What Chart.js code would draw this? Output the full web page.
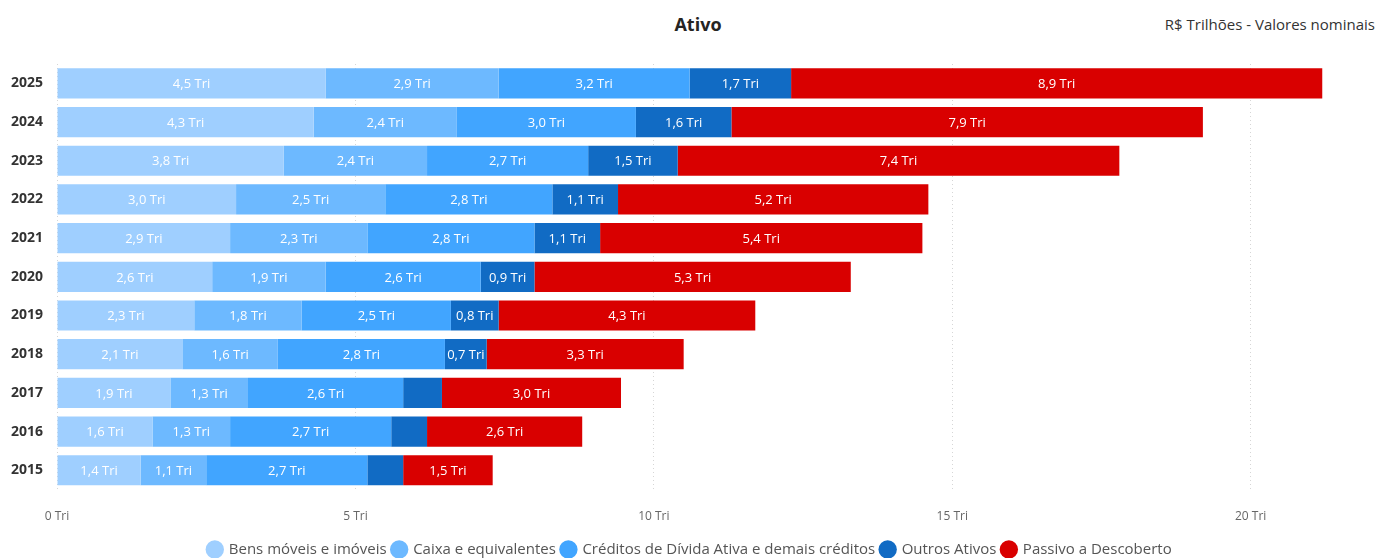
<!DOCTYPE html>
<html lang="pt-BR">
<head>
<meta charset="utf-8">
<title>Ativo</title>
<script src="https://cdn.jsdelivr.net/npm/chart.js@4/dist/chart.umd.min.js"></script>
<style>
  html, body { margin: 0; padding: 0; background: #fff; overflow: hidden; }
  body { width: 1378px; height: 558px; position: relative; font-family: 'Open Sans', sans-serif; }
  #title { position: absolute; top: 12px; left: 0; width: 1396px; text-align: center; font-weight: bold; font-size: 18px; color: #252423; }
  #note { position: absolute; top: 14px; right: 3px; font-size: 15px; color: #333; }
  #wrap { position: absolute; left: 0; top: 0; width: 1378px; height: 567px; }
</style>
</head>
<body>
<div id="title">Ativo</div>
<div id="note">R$ Trilhões - Valores nominais</div>
<div id="wrap"><canvas id="myChart"></canvas></div>
<script>
'use strict';

/** Data */
let years = ['2025', '2024', '2023', '2022', '2021', '2020', '2019', '2018', '2017', '2016', '2015'];
let bens = [4.5, 4.3, 3.8, 3.0, 2.9, 2.6, 2.3, 2.1, 1.9, 1.6, 1.4];
let caixa = [2.9, 2.4, 2.4, 2.5, 2.3, 1.9, 1.8, 1.6, 1.3, 1.3, 1.1];
let creditos = [3.2, 3.0, 2.7, 2.8, 2.8, 2.6, 2.5, 2.8, 2.6, 2.7, 2.7];
let outros = [1.7, 1.6, 1.5, 1.1, 1.1, 0.9, 0.8, 0.7, 0.65, 0.6, 0.6];
let passivo = [8.9, 7.9, 7.4, 5.2, 5.4, 5.3, 4.3, 3.3, 3.0, 2.6, 1.5];
let xTicks = [0, 5, 10, 15, 20];

let fontFamily = "'Open Sans', sans-serif";

function triLabel(v) {
  return v.toFixed(1).replace('.', ',') + ' Tri';
}

// Labels inside the segments, hidden when they don't fit
let segmentLabels = {
  id: 'segmentLabels',
  afterDatasetsDraw(chart) {
    let c = chart.ctx;
    c.save();
    c.font = '13px ' + fontFamily;
    c.fillStyle = '#ffffff';
    c.textAlign = 'center';
    c.textBaseline = 'middle';
    chart.data.datasets.forEach((ds, i) => {
      let meta = chart.getDatasetMeta(i);
      if (meta.hidden) return;
      meta.data.forEach((bar, j) => {
        let text = triLabel(ds.data[j]);
        let w = Math.abs(bar.x - bar.base);
        if (c.measureText(text).width + 4 > w) return;
        c.fillText(text, (bar.x + bar.base) / 2, bar.y + 1);
      });
    });
    c.restore();
  }
};

let ctx = document.getElementById('myChart');

let chartObj = {
  type: 'bar',
  data: {
    labels: years,
    datasets: [
      { label: 'Bens móveis e imóveis', data: bens, backgroundColor: '#9fcfff' },
      { label: 'Caixa e equivalentes', data: caixa, backgroundColor: '#6db9ff' },
      { label: 'Créditos de Dívida Ativa e demais créditos', data: creditos, backgroundColor: '#41a5ff' },
      { label: 'Outros Ativos', data: outros, backgroundColor: '#116bc4' },
      { label: 'Passivo a Descoberto', data: passivo, backgroundColor: '#d90000' }
    ]
  },
  options: {
    indexAxis: 'y',
    responsive: true,
    maintainAspectRatio: false,
    animation: false,
    layout: { padding: { top: 64, right: 8, left: 10, bottom: 0 } },
    datasets: {
      bar: { barPercentage: 0.78, categoryPercentage: 1, borderWidth: 0 }
    },
    scales: {
      x: {
        stacked: true,
        min: 0,
        max: 22,
        afterBuildTicks(axis) {
          axis.ticks = xTicks.map(v => ({ value: v }));
        },
        afterFit(axis) {
          axis.height -= 8;
        },
        grid: { color: '#d6d6d6', drawTicks: false, lineWidth: 1 },
        border: { display: false, dash: [1, 3] },
        ticks: {
          padding: 20,
          color: '#666',
          font: { family: fontFamily, size: 12 },
          callback: v => v + ' Tri'
        }
      },
      y: {
        stacked: true,
        afterFit(axis) {
          axis.width -= 13;
        },
        grid: { display: false, drawTicks: false },
        border: { display: false },
        ticks: {
          padding: 14,
          color: '#333',
          font: { family: fontFamily, size: 14, weight: 'bold' }
        }
      }
    },
    plugins: {
      legend: {
        position: 'bottom',
        labels: {
          usePointStyle: true,
          pointStyle: 'circle',
          boxWidth: 13,
          boxHeight: 13,
          padding: 6,
          color: '#555',
          font: { family: fontFamily, size: 15 }
        }
      },
      tooltip: { enabled: false }
    }
  },
  plugins: [segmentLabels]
};

new Chart(ctx, chartObj);
</script>
</body>
</html>
